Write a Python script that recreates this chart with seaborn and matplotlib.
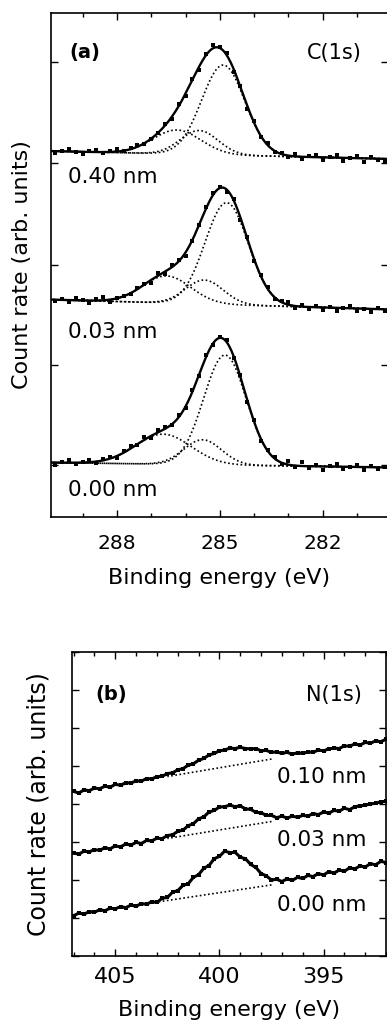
import numpy as np
import seaborn as sns
import matplotlib.pyplot as plt
from matplotlib.ticker import MultipleLocator, FixedLocator

# ---- C(1s) spectra (panel a), points every 0.2 eV from 290 to 280 eV ----
c_energy = np.round(np.linspace(290.0, 280.0, 51), 2)
c_labels = ['0.40 nm', '0.03 nm', '0.00 nm']
c_040 = [3.67, 3.64, 3.66, 3.68, 3.65, 3.63, 3.66, 3.67, 3.64, 3.66,
         3.68, 3.66, 3.69, 3.72, 3.73, 3.78, 3.84, 3.93, 3.98, 4.13,
         4.21, 4.38, 4.47, 4.63, 4.72, 4.70, 4.64, 4.45, 4.31, 4.08,
         3.96, 3.80, 3.74, 3.65, 3.64, 3.60, 3.63, 3.58, 3.61, 3.62,
         3.57, 3.60, 3.62, 3.56, 3.59, 3.61, 3.55, 3.60, 3.57, 3.56, 3.59]
c_003 = [2.19, 2.16, 2.18, 2.15, 2.19, 2.17, 2.14, 2.18, 2.20, 2.15,
         2.19, 2.21, 2.23, 2.29, 2.33, 2.34, 2.44, 2.43, 2.52, 2.57,
         2.61, 2.76, 2.92, 3.10, 3.24, 3.30, 3.25, 3.18, 2.97, 2.80,
         2.56, 2.42, 2.30, 2.18, 2.16, 2.15, 2.09, 2.12, 2.08, 2.11,
         2.07, 2.10, 2.06, 2.09, 2.11, 2.06, 2.08, 2.05, 2.09, 2.06, 2.04]
c_000 = [0.56, 0.52, 0.55, 0.57, 0.53, 0.55, 0.57, 0.54, 0.58, 0.60,
         0.59, 0.66, 0.71, 0.72, 0.80, 0.79, 0.87, 0.90, 0.92, 1.02,
         1.09, 1.27, 1.41, 1.62, 1.72, 1.80, 1.77, 1.59, 1.42, 1.15,
         0.97, 0.76, 0.67, 0.60, 0.53, 0.56, 0.50, 0.55, 0.49, 0.52,
         0.47, 0.51, 0.53, 0.48, 0.50, 0.52, 0.47, 0.51, 0.48, 0.50, 0.49]

# fitted gaussian components: centre (eV), height, width (eV)
c_centres = [[284.90, 285.60, 286.25], [284.80, 285.45, 286.55], [284.85, 285.50, 286.65]]
c_heights = [[0.90, 0.24, 0.24], [1.02, 0.24, 0.27], [1.10, 0.25, 0.30]]
c_sigmas = [[0.63, 0.55, 0.70], [0.63, 0.55, 0.70], [0.62, 0.55, 0.81]]
c_base285 = [3.62, 2.125, 0.52]
c_baseslope = [0.008, 0.010, 0.005]

# ---- N(1s) spectra (panel b), points every 0.25 eV from 407 to 392 eV ----
n_energy = np.round(np.linspace(407.0, 392.0, 61), 2)
n_labels = ['0.10 nm', '0.03 nm', '0.00 nm']
n_010 = [4.33, 4.29, 4.37, 4.35, 4.42, 4.40, 4.47, 4.44, 4.52, 4.49,
         4.56, 4.55, 4.61, 4.60, 4.67, 4.66, 4.72, 4.73, 4.80, 4.82,
         4.90, 4.93, 5.02, 5.06, 5.15, 5.20, 5.29, 5.33, 5.40, 5.42,
         5.47, 5.46, 5.49, 5.46, 5.45, 5.46, 5.40, 5.41, 5.36, 5.37,
         5.33, 5.36, 5.31, 5.35, 5.33, 5.37, 5.36, 5.42, 5.40, 5.45,
         5.47, 5.46, 5.53, 5.52, 5.58, 5.55, 5.62, 5.60, 5.66, 5.64, 5.70]
n_003 = [2.71, 2.68, 2.76, 2.74, 2.80, 2.78, 2.85, 2.82, 2.90, 2.87,
         2.95, 2.92, 2.99, 2.96, 3.04, 3.03, 3.10, 3.09, 3.17, 3.19,
         3.28, 3.31, 3.43, 3.48, 3.61, 3.66, 3.79, 3.83, 3.92, 3.93,
         3.97, 3.93, 3.95, 3.87, 3.86, 3.78, 3.77, 3.70, 3.70, 3.64,
         3.68, 3.63, 3.68, 3.65, 3.70, 3.68, 3.75, 3.72, 3.79, 3.76,
         3.83, 3.81, 3.89, 3.85, 3.93, 3.95, 3.97, 4.00, 4.02, 4.06, 4.07]
n_000 = [1.06, 1.13, 1.10, 1.17, 1.15, 1.22, 1.19, 1.26, 1.24, 1.30,
         1.27, 1.34, 1.31, 1.38, 1.36, 1.43, 1.41, 1.52, 1.54, 1.68,
         1.72, 1.86, 1.90, 2.07, 2.14, 2.31, 2.38, 2.56, 2.62, 2.76,
         2.72, 2.73, 2.60, 2.56, 2.41, 2.33, 2.17, 2.11, 2.00, 2.02,
         1.96, 2.03, 1.99, 2.07, 2.04, 2.12, 2.09, 2.17, 2.13, 2.22,
         2.18, 2.26, 2.23, 2.32, 2.29, 2.37, 2.34, 2.43, 2.40, 2.49, 2.46]

# straight background drawn under the N peak: start/end energy, value at ref energy, slope
n_bg_from = [402.5, 402.5, 403.5]
n_bg_to = [397.5, 397.5, 397.5]
n_bg_ref_e = [402.1, 402.1, 403.0]
n_bg_ref_y = [4.76, 3.13, 1.42]
n_bg_slope = [0.092, 0.089, 0.082]

sns.set_style('ticks')
plt.rcParams['font.family'] = ['DejaVu Sans']
plt.rcParams.update({'text.color': 'black', 'axes.labelcolor': 'black',
                     'axes.edgecolor': 'black', 'xtick.color': 'black',
                     'ytick.color': 'black'})

fig = plt.figure(figsize=(3.87, 10.27), dpi=100)
ax_a = fig.add_axes([51 / 387, 510 / 1027, 337 / 387, 504 / 1027])
ax_b = fig.add_axes([72 / 387, 71 / 1027, 314 / 387, 304 / 1027])

dot = (0, (1.0, 1.5))

# panel a
e_fine = np.linspace(290.0, 280.0, 500)
for i, pts in enumerate([c_040, c_003, c_000]):
    base = c_base285[i] + c_baseslope[i] * (e_fine - 285.0)
    comps = [h * np.exp(-(e_fine - c) ** 2 / (2 * s ** 2))
             for c, h, s in zip(c_centres[i], c_heights[i], c_sigmas[i])]
    for g in comps:
        sns.lineplot(x=e_fine, y=base + g, color='black', lw=1.2, linestyle=dot, ax=ax_a)
    sns.lineplot(x=e_fine, y=base + sum(comps), color='black', lw=1.7, ax=ax_a)
    sns.scatterplot(x=c_energy, y=pts, color='black', marker='s', s=8, linewidth=0, ax=ax_a)

ax_a.set_xlim(289.92, 280.1)
ax_a.set_ylim(0, 5.04)
ax_a.xaxis.set_major_locator(FixedLocator([288, 285, 282]))
ax_a.xaxis.set_minor_locator(MultipleLocator(1))
ax_a.yaxis.set_major_locator(FixedLocator([0.52, 1.52, 2.52, 3.54, 4.55]))
ax_a.set_yticklabels([])
ax_a.set_xlabel('Binding energy (eV)', fontsize=16, labelpad=11)
ax_a.set_ylabel('Count rate (arb. units)', fontsize=16, labelpad=10)
ax_a.tick_params(axis='x', labelsize=14.5, pad=12)

ax_a.text(0.056, 0.921, '(a)', transform=ax_a.transAxes, fontsize=14, fontweight='bold', va='center')
ax_a.text(0.923, 0.921, 'C(1s)', transform=ax_a.transAxes, fontsize=15, ha='right', va='center')
for lab, fy in zip(c_labels, [0.675, 0.367, 0.054]):
    ax_a.text(0.05, fy, lab, transform=ax_a.transAxes, fontsize=15.5, va='center')

# panel b
for i, pts in enumerate([n_010, n_003, n_000]):
    sns.lineplot(x=n_energy, y=pts, color='black', lw=2.2, ax=ax_b)
    sns.scatterplot(x=n_energy, y=pts, color='black', marker='s', s=10, linewidth=0, ax=ax_b)
    e_bg = np.array([n_bg_from[i], n_bg_to[i]])
    y_bg = n_bg_ref_y[i] + n_bg_slope[i] * (n_bg_ref_e[i] - e_bg)
    sns.lineplot(x=e_bg, y=y_bg, color='black', lw=1.2, linestyle=dot, ax=ax_b)

ax_b.set_xlim(407.08, 392.0)
ax_b.set_ylim(0, 8)
ax_b.xaxis.set_major_locator(FixedLocator([405, 400, 395]))
ax_b.xaxis.set_minor_locator(MultipleLocator(1))
ax_b.yaxis.set_major_locator(MultipleLocator(1))
ax_b.set_yticklabels([])
ax_b.set_xlabel('Binding energy (eV)', fontsize=16, labelpad=9)
ax_b.set_ylabel('Count rate (arb. units)', fontsize=17, labelpad=12)
ax_b.tick_params(axis='x', labelsize=16, pad=8)

ax_b.text(0.073, 0.859, '(b)', transform=ax_b.transAxes, fontsize=14, fontweight='bold', va='center')
ax_b.text(0.924, 0.859, 'N(1s)', transform=ax_b.transAxes, fontsize=15, ha='right', va='center')
for lab, fy in zip(n_labels, [0.589, 0.382, 0.168]):
    ax_b.text(0.939, fy, lab, transform=ax_b.transAxes, fontsize=15.5, ha='right', va='center')

for ax in (ax_a, ax_b):
    for sp in ax.spines.values():
        sp.set_linewidth(1.2)
        sp.set_visible(True)
        sp.set_color('black')
    ax.tick_params(which='both', direction='in', top=True, right=True, width=1.0, colors='black')
    ax.tick_params(which='major', length=5)
    ax.tick_params(which='minor', length=3)

fig.savefig('out.png', dpi=100)
